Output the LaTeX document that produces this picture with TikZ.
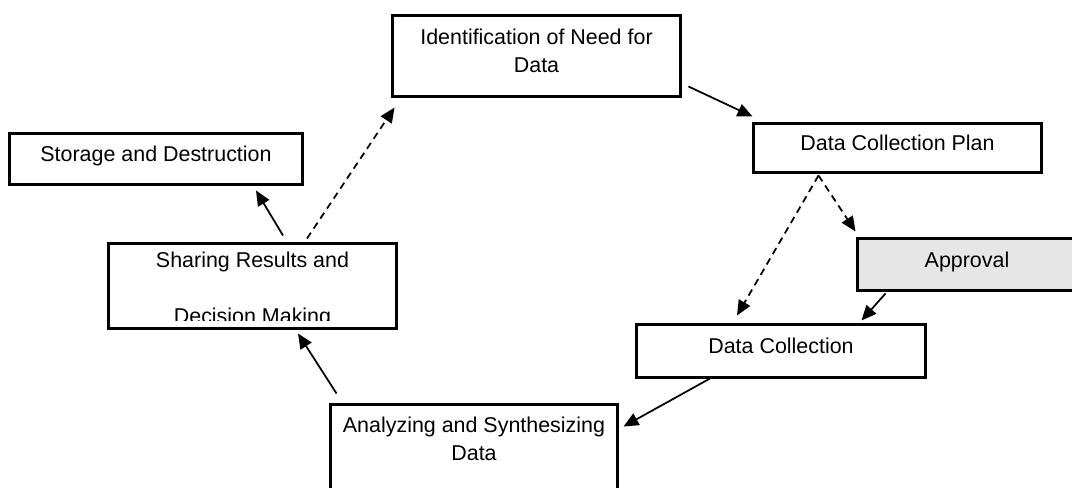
\documentclass[tikz,border=0pt]{standalone}
\usepackage{fontspec}
\setmainfont{Liberation Sans}
\usetikzlibrary{positioning, arrows.meta, calc}

\definecolor{approvalgray}{HTML}{E6E6E6}
\newcommand{\boxlines}[1]{\begin{tabular}[t]{@{}c@{}}#1\end{tabular}}

\begin{document}
\begin{tikzpicture}[x=0.02cm, y=-0.02cm,
        box/.style={draw, rectangle, line width=0.06cm, inner sep=0pt, font=\fontsize{12.2}{15.94}\selectfont, text height=0.35cm, text depth=0.25cm},
        txt/.style={draw=none, fill=none, inner sep=0pt, minimum width=0pt, minimum height=0pt, text height=, text depth=, anchor=base, font=\fontsize{12.2}{15.94}\selectfont},
        flow/.style={->, line width=0.035cm},
        maybe/.style={flow, dash pattern=on 0.14cm off 0.1cm},
        >={Triangle[length=0.3cm, width=0.26cm]}]

    \useasboundingbox (0,0) rectangle (1072,487);

    % Boxes
    \node (ident) [box, minimum width=5.78cm, minimum height=1.64cm, text depth=0.81cm] at (536.5,56) {\boxlines{Identification of Need for\\Data}};
    \node (plan) [box, minimum width=5.78cm, minimum height=1cm] at (897.5,148) {Data Collection Plan};
    \node (store) [box, minimum width=5.88cm, minimum height=1.04cm] at (156,159) {Storage and Destruction};
    \node (share) [box, minimum width=5.78cm, minimum height=1.72cm,
        path picture={
            \clip ($(path picture bounding box.south west)+(0,-8)$) rectangle (path picture bounding box.north east);
            \node[txt] at ([yshift=-0.49cm]path picture bounding box.north) {\boxlines{Sharing Results and\\ \\Decision Making}};}] at (252.5,286) {};
    \node (approv) [box, fill=approvalgray, minimum width=4.4cm, minimum height=1.06cm] at (967,264.5) {Approval};
    \node (coll) [box, minimum width=5.8cm, minimum height=1.06cm] at (781,350.5) {Data Collection};
    \node (analyz) [box, minimum width=5.76cm, minimum height=1.92cm, text depth=1.13cm] at (474,452) {\boxlines{Analyzing and Synthesizing\\Data}};

    % Connectors
    \draw[flow] ($(ident.south east)+(6,-12)$) -- ($(plan.north west)+(1,-5)$);
    \draw[maybe] ($(plan.south)+(-79,1)$) -- ($(coll.north)+(-44,-7)$);
    \draw[maybe] ($(plan.south)+(-79,1)$) -- ($(approv.north west)+(0,-5)$);
    \draw[flow] ($(approv.south west)+(30,1)$) -- ($(coll.north east)+(-66,-2)$);
    \draw[flow] ($(coll.south)+(-71,0)$) -- ($(analyz.north east)+(4,24)$);
    \draw[flow] ($(analyz.north west)+(8,-9)$) -- ($(share.south)+(45.5,3)$);
    \draw[flow] ($(share.north)+(30.5,-6)$) -- ($(store.south)+(100,4)$);
    \draw[maybe] ($(share.north)+(54.5,-3)$) -- ($(ident.south west)+(4,9)$);

\end{tikzpicture}
\end{document}
